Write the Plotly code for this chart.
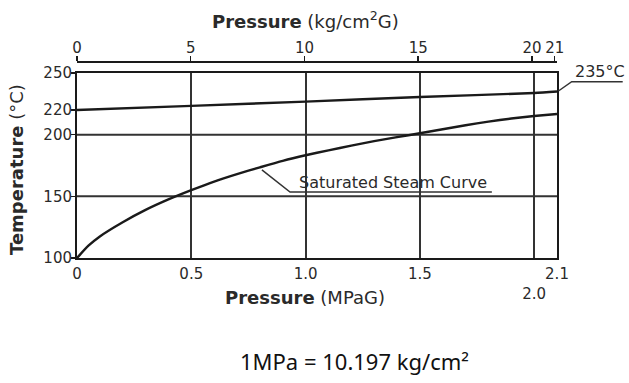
import plotly.graph_objects as go

# ---- data ----
pressure_mpa = [0, 0.05, 0.1, 0.2, 0.3, 0.4, 0.5, 0.6, 0.7, 0.8, 0.9, 1.0,
                1.1, 1.2, 1.3, 1.4, 1.5, 1.6, 1.7, 1.8, 1.9, 2.0, 2.1]
sat_temp = [100, 110, 117.5, 129, 139, 147.5, 155, 162, 168, 173.5, 178.8, 183.3,
            187.3, 191.1, 194.7, 198.0, 201.1, 204.4, 207.6, 210.6, 213.1, 215.1, 216.8]

limit_mpa = [0, 0.5, 1.0, 1.5, 2.0, 2.1]
limit_temp = [220, 223.3, 226.8, 230.5, 233.8, 235]

mpa_ticks = [0, 0.5, 1.0, 1.5, 2.0, 2.1]
mpa_labels = ["0", "0.5", "1.0", "1.5", "<br>2.0", "2.1"]
kg_ticks = [0, 5, 10, 15, 20, 21]
kg_labels = ["0", "5", "10", "15", "20", "21"]
temp_ticks = [100, 150, 200, 220, 250]
temp_grid = [150, 200]

FONT = "DejaVu Sans"
INK = "#1a1a1a"
TXT = "#2a2a2a"

fig = go.Figure()
fig.add_trace(go.Scatter(x=pressure_mpa, y=sat_temp, mode="lines",
                         line=dict(color=INK, width=2.4, shape="spline", smoothing=0.6),
                         hoverinfo="skip", showlegend=False))
fig.add_trace(go.Scatter(x=limit_mpa, y=limit_temp, mode="lines",
                         line=dict(color=INK, width=2.4, shape="spline", smoothing=0.6),
                         hoverinfo="skip", showlegend=False))
# invisible trace so the top (kg/cm2) axis is drawn
fig.add_trace(go.Scatter(x=[kg_ticks[0], kg_ticks[-1]], y=[None, None], xaxis="x2",
                         mode="lines", hoverinfo="skip", showlegend=False))

shapes = []
for t in temp_grid:
    shapes.append(dict(type="line", xref="paper", x0=0, x1=1, yref="y", y0=t, y1=t,
                       line=dict(color="#333", width=2), layer="below"))
# Saturated steam curve leader
shapes.append(dict(type="path", xref="x", yref="y",
                   path="M 0.809 171.4 L 0.932 153.5 L 1.815 153.5",
                   line=dict(color="#333", width=1.5)))
# 235°C leader
shapes.append(dict(type="path", xref="paper", yref="paper",
                   path="M 1.003 0.852 L 1.0306 0.8995 L 1.1369 0.8995",
                   line=dict(color="#333", width=1.5)))

annotations = [
    dict(text="Saturated Steam Curve", x=0.962, y=161.6, xref="x", yref="y",
         xanchor="left", yanchor="middle", showarrow=False,
         font=dict(family=FONT, size=16, color=TXT)),
    dict(text="235°C", x=1.0333, y=0.954, xref="paper", yref="paper",
         xanchor="left", yanchor="middle", showarrow=False,
         font=dict(family=FONT, size=16, color=TXT)),
    dict(text="<b>Pressure</b> (kg/cm<sup>2</sup>G)", x=0.475, y=1.214,
         xref="paper", yref="paper", xanchor="center", yanchor="middle",
         showarrow=False, font=dict(family=FONT, size=18, color=TXT)),
    dict(text="<b>Pressure</b> (MPaG)", x=0.475, y=-0.204,
         xref="paper", yref="paper", xanchor="center", yanchor="middle",
         showarrow=False, font=dict(family=FONT, size=18, color=TXT)),
    dict(text="<b>Temperature</b> (°C)", x=-0.125, y=0.449, textangle=-90,
         xref="paper", yref="paper", xanchor="center", yanchor="middle",
         showarrow=False, font=dict(family=FONT, size=18, color=TXT)),
    dict(text="1MPa = 10.197 kg/cm²", x=0.579, y=-0.526,
         xref="paper", yref="paper", xanchor="center", yanchor="middle",
         showarrow=False, font=dict(family="Noto Sans", size=22, color="#111")),
]

fig.update_layout(
    width=629, height=383,
    margin=dict(l=77, r=72, t=62, b=125, autoexpand=False),
    paper_bgcolor="white", plot_bgcolor="white",
    font=dict(family=FONT, size=15, color=TXT),
    shapes=shapes, annotations=annotations,
    xaxis=dict(range=[0, 2.1], tickvals=mpa_ticks, ticktext=mpa_labels, tickangle=0,
               showgrid=True, gridcolor="#333", gridwidth=2,
               showline=True, linecolor=INK, linewidth=2, mirror=True,
               ticks="", ticklabelstandoff=1, zeroline=False, automargin=False,
               tickfont=dict(family=FONT, size=15, color=TXT), fixedrange=True),
    xaxis2=dict(range=[0, 21.1], overlaying="x", side="top", anchor="free", position=1,
                tickvals=kg_ticks, ticktext=kg_labels, tickangle=0, showgrid=False,
                showline=True, linecolor=INK, linewidth=2,
                ticks="outside", ticklen=5, tickwidth=1.5, tickcolor=INK,
                ticklabelstandoff=-3, zeroline=False, automargin=False,
                tickfont=dict(family=FONT, size=15, color=TXT), fixedrange=True),
    yaxis=dict(range=[100, 250], domain=[0, 0.9439], tickvals=temp_ticks,
               showgrid=False, showline=True, linecolor=INK, linewidth=2, mirror=True,
               ticks="outside", ticklen=4, tickwidth=1.2, tickcolor=INK,
               ticklabelstandoff=-4, zeroline=False, automargin=False,
               tickfont=dict(family=FONT, size=15, color=TXT), fixedrange=True),
)

# remove the default page margin so the figure sits at the window's top-left corner
fig.write_html("out.html",
               config={"displayModeBar": False, "staticPlot": True},
               post_script="document.body.style.margin='0';document.body.style.overflow='hidden';")
